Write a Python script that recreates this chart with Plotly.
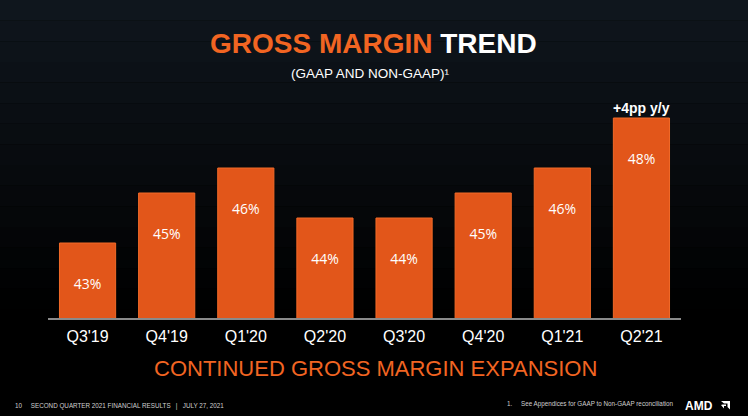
import plotly.graph_objects as go

quarters = ["Q3'19", "Q4'19", "Q1'20", "Q2'20", "Q3'20", "Q4'20", "Q1'21", "Q2'21"]
margins = [43, 45, 46, 44, 44, 45, 46, 48]
labels = [f"{v}%" for v in margins]

W, H = 748, 416
L, R, T, B = 48, 67, 98, 98
plot_h = H - T - B
plot_w = W - L - R

def px(x):
    return (x - L) / plot_w

def py(y):
    return (H - B - y) / plot_h

fig = go.Figure()

fig.add_trace(go.Bar(
    x=quarters, y=margins, base=0,
    marker=dict(color="#E2561A", line=dict(color="#F26A28", width=1)),
    hoverinfo="skip", showlegend=False,
))

fig.add_trace(go.Scatter(
    x=quarters, y=[v - 1.7 for v in margins], mode="text", text=labels,
    textfont=dict(family="Open Sans", size=14, color="white"),
    hoverinfo="skip", showlegend=False,
))

shapes = []
# background vertical gradient
n = 16
for i in range(n):
    f = i / (n - 1)
    r = int(15 * (1 - f))
    g = int(22 * (1 - f))
    b = int(29 * (1 - f))
    y0 = i * 330 / n
    y1 = (i + 1) * 330 / n
    shapes.append(dict(type="rect", xref="paper", yref="paper",
                       x0=px(0), x1=px(W), y0=py(y1), y1=py(y0),
                       fillcolor=f"rgb({r},{g},{b})", line=dict(width=0), layer="below"))

# AMD logo arrow glyph
ax0, ay0 = 721, 401
shapes.append(dict(type="path", xref="paper", yref="paper",
                   path=(f"M {px(ax0)},{py(ay0)} L {px(ax0+9)},{py(ay0)} L {px(ax0+9)},{py(ay0+8.5)} "
                         f"L {px(ax0+6.5)},{py(ay0+6)} L {px(ax0+6.5)},{py(ay0+2.5)} L {px(ax0+3)},{py(ay0+2.5)} Z"),
                   fillcolor="white", line=dict(width=0)))
shapes.append(dict(type="path", xref="paper", yref="paper",
                   path=(f"M {px(ax0)},{py(ay0+4)} L {px(ax0+3)},{py(ay0+7.5)} L {px(ax0+3)},{py(ay0+5)} "
                         f"L {px(ax0+5)},{py(ay0+5)} L {px(ax0+5)},{py(ay0+3.5)} L {px(ax0+1.5)},{py(ay0+3.5)} Z"),
                   fillcolor="white", line=dict(width=0)))

annotations = [
    dict(text="<b><span style='color:#F26522'>GROSS MARGIN</span> TREND</b>",
         x=px(374), y=py(43), xref="paper", yref="paper", showarrow=False,
         font=dict(family="Liberation Sans", size=28, color="white"), xanchor="center", yanchor="middle"),
    dict(text="(GAAP AND NON-GAAP)¹",
         x=px(370), y=py(73), xref="paper", yref="paper", showarrow=False,
         font=dict(family="Liberation Sans", size=13.5, color="white"), xanchor="center", yanchor="middle"),
    dict(text="<b>+4pp y/y</b>", x=quarters[-1], y=margins[-1], xref="x", yref="y",
         showarrow=False, yanchor="bottom", yshift=0,
         font=dict(family="Liberation Sans", size=14, color="white")),
    dict(text="CONTINUED GROSS MARGIN EXPANSION",
         x=px(376), y=py(368), xref="paper", yref="paper", showarrow=False,
         font=dict(family="Liberation Sans", size=22, color="#F26522"), xanchor="center", yanchor="middle"),
    dict(text="10&nbsp;&nbsp;&nbsp;&nbsp;&nbsp;SECOND QUARTER 2021 FINANCIAL RESULTS&nbsp;&nbsp;&nbsp;|&nbsp;&nbsp;&nbsp;JULY 27, 2021",
         x=px(13), y=py(406), xref="paper", yref="paper", showarrow=False,
         font=dict(family="Liberation Sans", size=6.3, color="#cfcfcf"), xanchor="left", yanchor="middle"),
    dict(text="1.&nbsp;&nbsp;&nbsp;&nbsp;&nbsp;See Appendices for GAAP to Non-GAAP reconciliation",
         x=px(505), y=py(404), xref="paper", yref="paper", showarrow=False,
         font=dict(family="Liberation Sans", size=6.3, color="#cfcfcf"), xanchor="left", yanchor="middle"),
    dict(text="<b>AMD</b>",
         x=px(683), y=py(405.5), xref="paper", yref="paper", showarrow=False,
         font=dict(family="Liberation Sans", size=12, color="white"), xanchor="left", yanchor="middle"),
]

fig.update_layout(
    width=W, height=H,
    margin=dict(l=L, r=R, t=T, b=B, pad=0),
    paper_bgcolor="black", plot_bgcolor="rgba(0,0,0,0)",
    bargap=0.29,
    shapes=shapes, annotations=annotations,
    xaxis=dict(showline=True, linecolor="#8a8a8a", linewidth=1.5, showgrid=False, zeroline=False,
               ticks="", tickfont=dict(family="Liberation Sans", size=16, color="white"),
               ticklabelstandoff=3, fixedrange=True),
    yaxis=dict(range=[40, 40 + plot_h / 25], visible=False, showgrid=False, fixedrange=True),
)

fig.write_html("out.html", config={"displayModeBar": False},
               post_script="document.body.style.margin='0';document.body.style.background='black';")
